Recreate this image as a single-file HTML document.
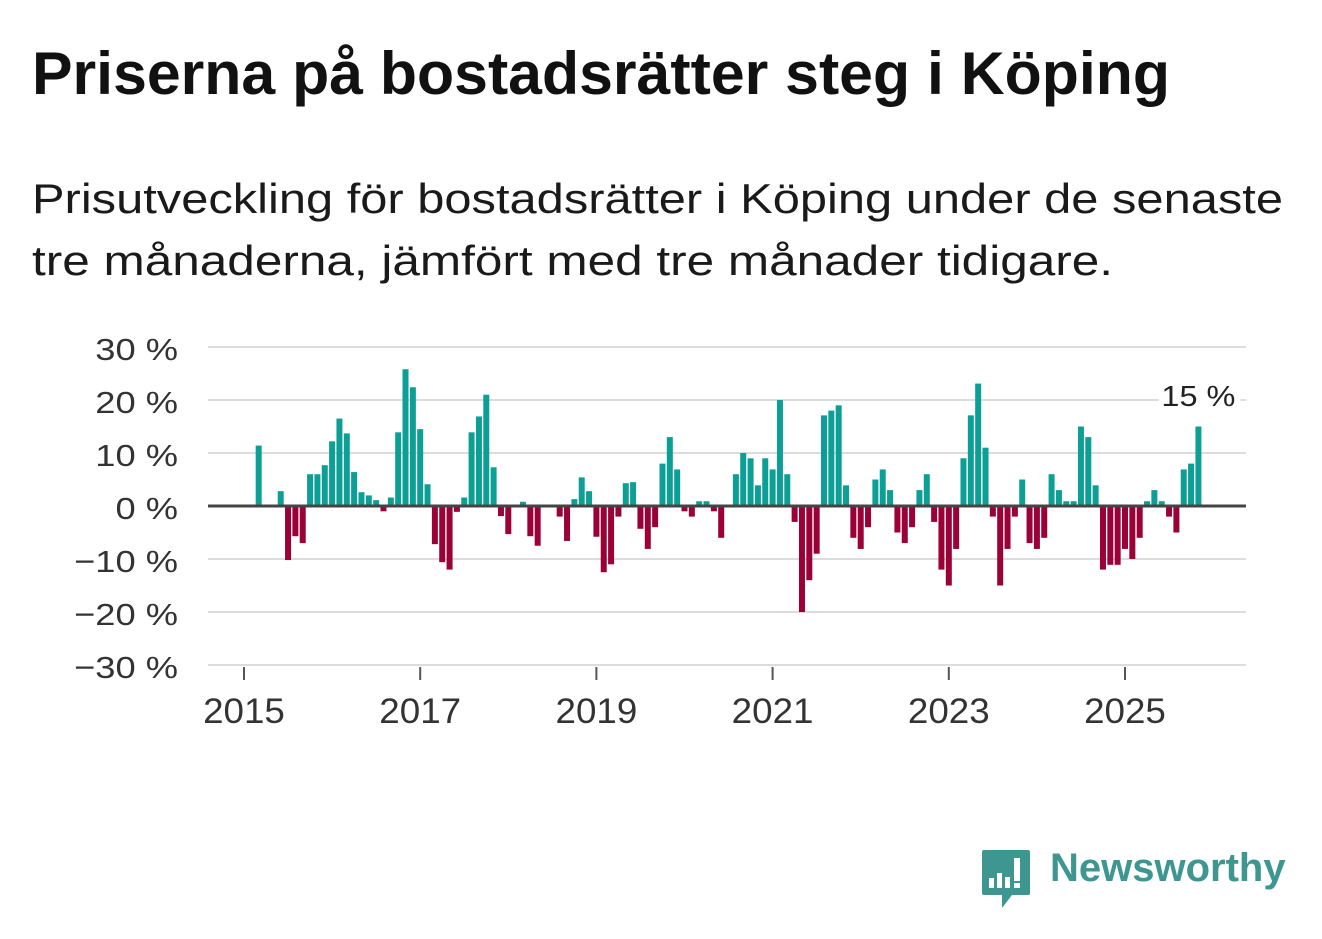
<!DOCTYPE html>
<html><head><meta charset="utf-8">
<style>
body{margin:0;background:#fff;width:1322px;height:939px;overflow:hidden;font-family:"Liberation Sans","DejaVu Sans",sans-serif;}
svg{position:absolute;left:0;top:0;font-family:"Liberation Sans","DejaVu Sans",sans-serif;}
</style></head><body>
<svg id="chart" width="1322" height="939">
<text x="32" y="94" font-size="60" font-weight="bold" fill="#111" textLength="1138" lengthAdjust="spacingAndGlyphs">Priserna på bostadsrätter steg i Köping</text>
<text x="32" y="213" font-size="42" fill="#1a1a1a" textLength="1251" lengthAdjust="spacingAndGlyphs">Prisutveckling för bostadsrätter i Köping under de senaste</text>
<text x="32" y="275" font-size="42" fill="#1a1a1a" textLength="1081" lengthAdjust="spacingAndGlyphs">tre månaderna, jämfört med tre månader tidigare.</text>
</svg>
<script>
const startYear = 2015;
const values = [0,0,11.4,0,0,2.8,-10.2,-5.7,-7,6,6,7.7,
12.2,16.5,13.7,6.4,2.6,2,1.1,-1,1.6,13.9,25.8,22.4,
14.5,4.1,-7.2,-10.6,-12,-1.1,1.6,13.9,16.9,21,7.3,-1.9,
-5.3,0,0.8,-5.7,-7.5,0,0,-2,-6.6,1.3,5.4,2.8,
-5.8,-12.5,-11,-2,4.3,4.5,-4.3,-8.1,-4,8,13,6.9,
-1,-2,0.9,0.9,-1,-6,0,6,10,9,3.9,9,
6.9,20,6,-3,-20,-14,-9,17.1,18,19,3.9,-6,
-8.1,-4,5,6.9,3,-5,-7,-4,3,6,-3,-12,
-15,-8.1,9,17.1,23.1,11,-2,-15,-8.1,-2,5,-7,
-8.1,-6,6,3,0.9,0.9,15,13,3.9,-12,-11.1,-11.1,
-8.1,-10,-6,0.9,3,0.9,-2,-5,6.9,8,15];
const yTicks = [30,20,10,0,-10,-20,-30];
const yTickLabels = ["30 %","20 %","10 %","0 %","−10 %","−20 %","−30 %"];
const xTicks = [2015,2017,2019,2021,2023,2025];
const lastLabel = "15 %";

const svg = document.getElementById('chart');
const NS = 'http://www.w3.org/2000/svg';
const x0 = 244, pxYear = 88.1, yZero = 506, pxPct = 5.3;
const xs = t => x0 + (t - startYear) * pxYear;
const ys = v => yZero - v * pxPct;
function mk(tag, attrs){const e=document.createElementNS(NS,tag);for(const k in attrs)e.setAttribute(k,attrs[k]);svg.appendChild(e);return e;}
function widen(el,k){const w=el.getComputedTextLength();el.setAttribute('textLength',(w*k).toFixed(1));el.setAttribute('lengthAdjust','spacingAndGlyphs');}

yTicks.forEach((t,i)=>{
  if(t!==0){
    const g=mk('line',{x1:208,x2:1246,y1:ys(t),y2:ys(t),stroke:'#dcdcdc','stroke-width':2});
    
    
  }
  const l=mk('text',{x:178,y:ys(t)+13,'text-anchor':'end','font-size':31,fill:'#333'});
  l.textContent=yTickLabels[i];
  
  
  widen(l,1.17);
});
xTicks.forEach(t=>{
  const tk=mk('line',{x1:xs(t),x2:xs(t),y1:667,y2:680,stroke:'#555','stroke-width':2});
  
  
  const l=mk('text',{x:xs(t),y:723,'text-anchor':'middle','font-size':35,fill:'#333'});
  l.textContent=String(t);
  
  
  widen(l,1.05);
});
values.forEach((v,i)=>{
  if(v===0)return;
  const cx=xs(startYear+i/12);
  const r=mk('rect',{x:cx-3,width:6,y:Math.min(ys(v),yZero),height:Math.abs(ys(v)-yZero),fill:v>0?'#0c9f95':'#9b0037'});
  
  
});
const z=mk('line',{x1:208,x2:1246,y1:yZero,y2:yZero,stroke:'#444','stroke-width':3});


const li=values.length-1;
const lx=xs(startYear+li/12);
const bg=mk('rect',{x:lx-40,y:376,width:82,height:36,fill:'#fff'});


const vl=mk('text',{x:lx,y:406,'text-anchor':'middle','font-size':29,fill:'#222'});
vl.textContent=lastLabel;


widen(vl,1.12);
</script>
<div style="position:absolute;left:982px;top:850px;width:320px;height:60px">
<svg width="52" height="62" style="position:absolute;left:0;top:0">
<path d="M2 0 H46 Q48 0 48 2 V43 Q48 45 46 45 H30 L20 58 V45 H2 Q0 45 0 43 V2 Q0 0 2 0 Z" fill="#3d9690"/>
<rect x="7" y="28" width="5" height="10" fill="#fff"/><rect x="15" y="23" width="5" height="15" fill="#fff"/><rect x="23" y="27" width="5" height="11" fill="#fff"/><rect x="32" y="8" width="6" height="23" fill="#fff"/><rect x="32" y="33" width="6" height="5" fill="#fff"/>
</svg>
<div style="position:absolute;left:68px;top:-4px;font-size:40px;font-weight:bold;color:#3d9690;">Newsworthy</div>
</div>
</body></html>
